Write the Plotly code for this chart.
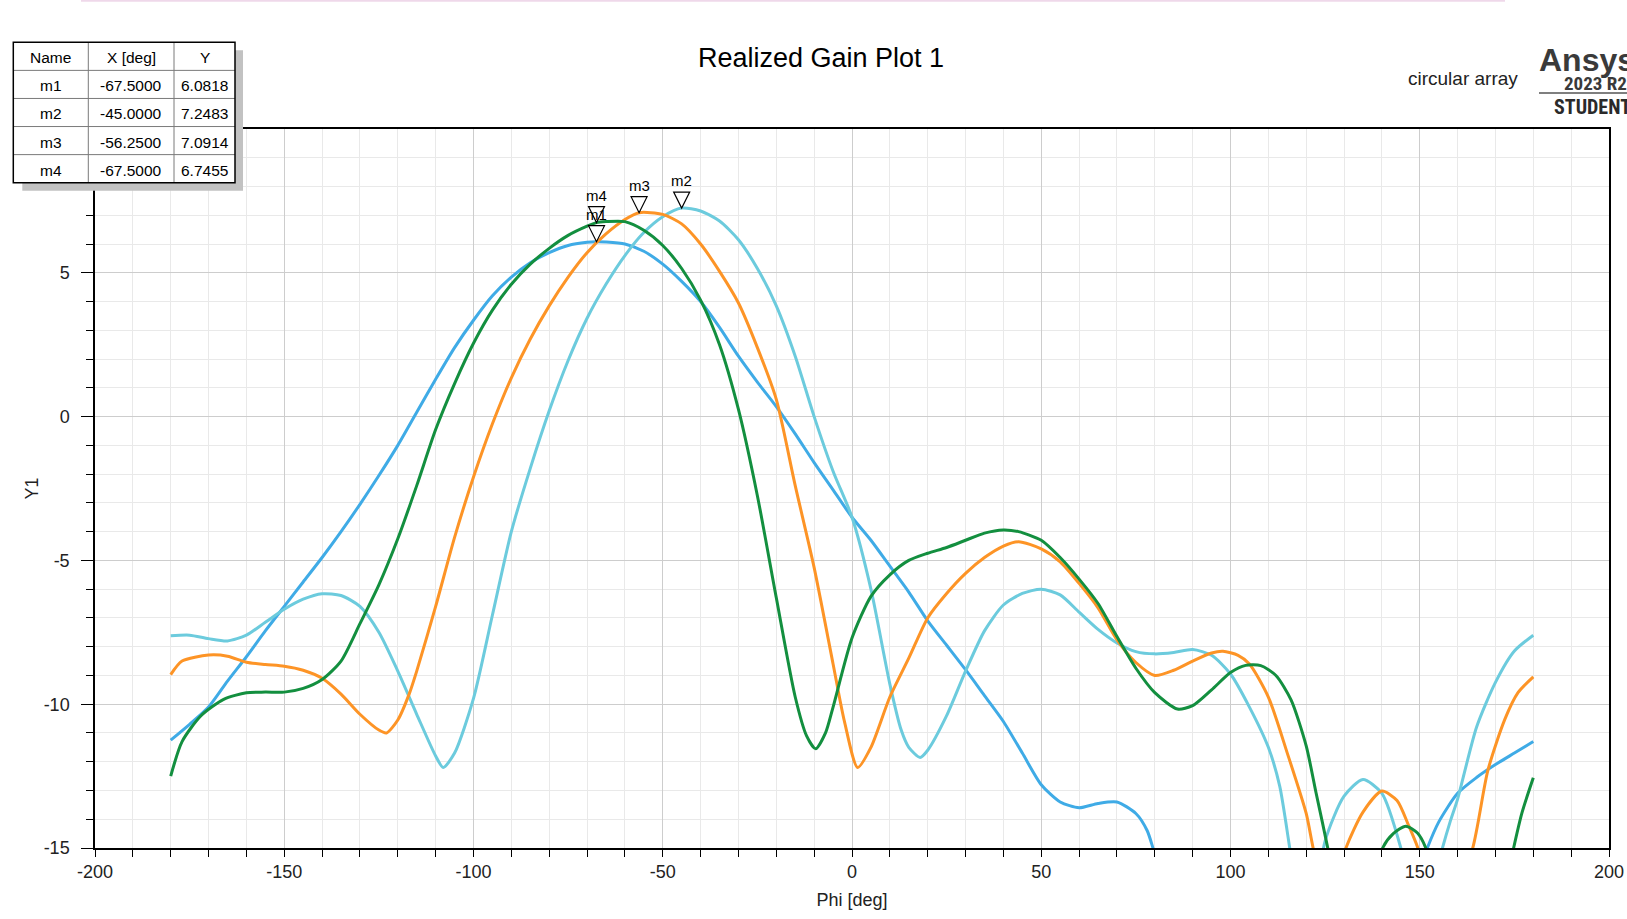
import plotly.graph_objects as go

# ---------------- data ----------------
phi_blue = [-180, -175, -170, -165, -160, -155, -150, -145, -140, -135, -130, -125, -120, -115, -110,
            -105, -100, -95, -90, -85, -80, -75, -70, -67.5, -65, -60, -55, -50, -45, -40, -35, -30,
            -25, -20, -15, -10, -5, 0, 5, 10, 15, 20, 25, 30, 35, 40, 45, 50, 55, 60, 65, 70, 75, 78,
            80, 85, 90, 100, 110, 120, 130, 140, 148, 152, 155, 160, 165, 170, 175, 180]
gain_blue = [-11.25, -10.7, -10.1, -9.2, -8.35, -7.45, -6.6, -5.75, -4.9, -4.0, -3.05, -2.05, -1.0, 0.15, 1.3,
             2.4, 3.35, 4.2, 4.85, 5.35, 5.7, 5.95, 6.06, 6.08, 6.07, 6.0, 5.75, 5.3, 4.7, 4.0, 3.1, 2.1,
             1.2, 0.35, -0.6, -1.6, -2.55, -3.5, -4.3, -5.2, -6.1, -7.1, -7.95, -8.8, -9.7, -10.6, -11.7,
             -12.8, -13.4, -13.6, -13.45, -13.4, -13.8, -14.4, -15.2, -17, -19, -21, -22, -21, -20, -18.5,
             -16.5, -15, -14.1, -13.1, -12.55, -12.1, -11.7, -11.3]

phi_cyan = [-180, -175, -170, -165, -160, -155, -150, -145, -140, -135, -130, -125, -120, -115, -110, -108,
            -105, -100, -95, -90, -85, -80, -75, -70, -65, -60, -55, -50, -45, -40, -35, -30, -25, -20,
            -15, -10, -5, 0, 5, 10, 13, 15, 18, 20, 25, 30, 35, 40, 45, 50, 55, 60, 65, 70, 75, 80, 85,
            90, 95, 100, 105, 110, 113, 116, 120, 125, 130, 135, 140, 145, 150, 156, 158, 160, 165, 170,
            175, 180]
gain_cyan = [-7.62, -7.6, -7.72, -7.8, -7.6, -7.15, -6.7, -6.35, -6.16, -6.22, -6.6, -7.5, -8.85, -10.35,
             -11.8, -12.2, -11.7, -9.8, -6.9, -4.0, -1.8, 0.2, 1.95, 3.42, 4.6, 5.6, 6.4, 6.95, 7.25, 7.15,
             6.8, 6.15, 5.15, 3.85, 2.1, 0.0, -1.9, -3.5, -6.0, -9.3, -10.9, -11.5, -11.85, -11.6, -10.4,
             -8.85, -7.45, -6.55, -6.15, -6.0, -6.2, -6.8, -7.4, -7.87, -8.17, -8.25, -8.2, -8.1, -8.3,
             -8.95, -10.1, -11.5, -12.85, -15.3, -18.5, -14.75, -13.2, -12.62, -13.1, -15.0, -18, -15.0,
             -14.1, -13.3, -10.8, -9.24, -8.15, -7.6]

phi_orange = [-180, -177, -170, -165, -160, -155, -150, -145, -140, -135, -130, -125, -123, -120, -117,
              -115, -110, -105, -100, -95, -90, -85, -80, -75, -70, -65, -60, -56.25, -50, -45, -40, -35,
              -30, -25, -20, -15, -10, -5, -2, 1.5, 5, 10, 15, 20, 25, 30, 35, 40, 44, 50, 55, 60, 65, 70,
              75, 80, 85, 90, 95, 98, 102, 105, 110, 115, 120, 122, 126, 130.5, 135, 140, 144, 147, 149.5,
              156, 164, 168, 172.5, 176, 180]
gain_orange = [-8.97, -8.5, -8.29, -8.33, -8.54, -8.62, -8.68, -8.82, -9.1, -9.65, -10.35, -10.9, -11.0,
               -10.55, -9.65, -8.85, -6.6, -4.2, -2.1, -0.25, 1.35, 2.7, 3.85, 4.85, 5.7, 6.35, 6.85, 7.09,
               7.03, 6.7, 6.0, 5.05, 3.95, 2.4, 0.6, -2.4, -5.25, -8.6, -10.6, -12.2, -11.5, -9.75, -8.4,
               -7.0, -6.15, -5.45, -4.9, -4.5, -4.35, -4.6, -5.05, -5.8, -6.65, -7.76, -8.55, -9.0, -8.82,
               -8.5, -8.22, -8.16, -8.3, -8.6, -9.75, -11.7, -13.8, -15.1, -17, -15, -13.75, -13.02,
               -13.35, -14.2, -15.0, -18, -15.0, -12.3, -10.52, -9.59, -9.05]

phi_green = [-180, -177, -172, -166, -160, -155, -150, -145, -140, -135, -130, -125, -120, -115, -110,
             -105, -100, -95, -90, -85, -80, -75, -70, -67.5, -65, -60, -55, -50, -45, -40, -35, -30, -25,
             -20, -15, -12, -9.6, -7, -5, 0, 5, 10, 15, 20, 25, 30, 35, 40, 44, 50, 55, 60, 65, 70, 75, 80,
             86, 90, 95, 100, 104, 108, 112, 116, 120, 122.6, 125.7, 130, 135, 140.2, 143, 146.3, 149.4,
             151.6, 160, 170, 174.8, 177, 180]
gain_green = [-12.5, -11.3, -10.4, -9.83, -9.6, -9.58, -9.58, -9.45, -9.14, -8.5, -7.2, -5.85, -4.25, -2.4,
              -0.45, 1.15, 2.55, 3.7, 4.6, 5.3, 5.85, 6.3, 6.62, 6.7455, 6.78, 6.78, 6.48, 5.95, 5.15, 4.05,
              2.5, 0.25, -2.75, -6.3, -9.75, -11.1, -11.55, -11.0, -10.1, -7.7, -6.25, -5.5, -5.0, -4.75,
              -4.55, -4.3, -4.05, -3.94, -4.0, -4.3, -4.9, -5.65, -6.5, -7.65, -8.75, -9.6, -10.17, -10.05,
              -9.5, -8.9, -8.65, -8.66, -9.0, -9.85, -11.45, -13.08, -15, -18, -18, -15, -14.5, -14.24,
              -14.48, -15, -19, -18, -15, -13.78, -12.56]

marker_names = ["m1", "m2", "m3", "m4"]
marker_x = [-67.5, -45.0, -56.25, -67.5]
marker_y = [6.0818, 7.2483, 7.0914, 6.7455]

table_header = ["Name", "X [deg]", "Y"]

x_tick_vals = [-200, -150, -100, -50, 0, 50, 100, 150, 200]
y_tick_vals = [-15, -10, -5, 0, 5]

# ---------------- layout geometry ----------------
FIG_W, FIG_H = 1627, 919
M_L, M_R, M_T, M_B = 95, 18, 129, 71
PLOT_W = FIG_W - M_L - M_R
PLOT_H = FIG_H - M_T - M_B


def xp(px):
    return (px - M_L) / PLOT_W


def yp(py):
    return (FIG_H - M_B - py) / PLOT_H


FONT = "Liberation Sans, Arial, sans-serif"
NARROW = "Liberation Sans Narrow, Roboto Condensed, Liberation Sans, Arial, sans-serif"

fig = go.Figure()

series = [
    ("curve 1", phi_blue, gain_blue, "#3fabe6"),
    ("curve 2", phi_cyan, gain_cyan, "#6ccbdd"),
    ("curve 3", phi_orange, gain_orange, "#fd9426"),
    ("curve 4", phi_green, gain_green, "#138f3f"),
]
for name, xs, ys, col in series:
    fig.add_trace(go.Scatter(
        x=xs, y=ys, mode="lines", name=name, showlegend=False,
        line=dict(color=col, width=3, shape="spline", smoothing=0.7),
        hoverinfo="x+y",
    ))

shapes = []
annotations = []

# marker triangles (tip on the data point) and labels
for nm, mx, my in zip(marker_names, marker_x, marker_y):
    shapes.append(dict(
        type="path", xref="x", yref="y", xsizemode="pixel", ysizemode="pixel",
        xanchor=mx, yanchor=my, path="M -8 16 L 8 16 L 0 0 Z",
        fillcolor="white", line=dict(color="black", width=1.2), layer="above",
    ))
    annotations.append(dict(
        x=mx, y=my, xref="x", yref="y", text=nm, showarrow=False,
        yanchor="bottom", yshift=17, font=dict(family=FONT, size=15, color="black"),
    ))

# marker table
col_edges = [13.3, 88.3, 174.0, 235.0]
row_top = 42.3
row_h = 28.08
n_rows = len(marker_names) + 1
tbl_bottom = row_top + n_rows * row_h
shapes.append(dict(type="rect", xref="paper", yref="paper",
                   x0=xp(col_edges[0] + 9), x1=xp(col_edges[-1] + 8),
                   y0=yp(row_top + 8), y1=yp(tbl_bottom + 8),
                   fillcolor="#c2c2c2", line=dict(width=0), layer="above"))
shapes.append(dict(type="rect", xref="paper", yref="paper",
                   x0=xp(col_edges[0]), x1=xp(col_edges[-1]),
                   y0=yp(row_top), y1=yp(tbl_bottom),
                   fillcolor="white", line=dict(width=0), layer="above"))
for i in range(1, n_rows):
    yy = yp(row_top + i * row_h)
    shapes.append(dict(type="line", xref="paper", yref="paper",
                       x0=xp(col_edges[0]), x1=xp(col_edges[-1]), y0=yy, y1=yy,
                       line=dict(color="#7a7a7a", width=1), layer="above"))
for cx in col_edges[1:-1]:
    shapes.append(dict(type="line", xref="paper", yref="paper",
                       x0=xp(cx), x1=xp(cx), y0=yp(row_top), y1=yp(tbl_bottom),
                       line=dict(color="#7a7a7a", width=1), layer="above"))
shapes.append(dict(type="rect", xref="paper", yref="paper",
                   x0=xp(col_edges[0]), x1=xp(col_edges[-1]),
                   y0=yp(row_top), y1=yp(tbl_bottom),
                   fillcolor="rgba(0,0,0,0)", line=dict(color="black", width=1.5), layer="above"))

rows = [table_header] + [[nm, f"{mx:.4f}", f"{my:.4f}"]
                         for nm, mx, my in zip(marker_names, marker_x, marker_y)]
for r, row in enumerate(rows):
    cy = row_top + (r + 0.5) * row_h + 1.5
    for c, txt in enumerate(row):
        cx = (col_edges[c] + col_edges[c + 1]) / 2
        annotations.append(dict(
            x=xp(cx), y=yp(cy), xref="paper", yref="paper", text=txt, showarrow=False,
            xanchor="center", yanchor="middle",
            font=dict(family=FONT, size=15.5, color="black"),
        ))

# title and branding texts
annotations.append(dict(x=xp(820.5), y=yp(58), xref="paper", yref="paper",
                        text="Realized Gain Plot 1", showarrow=False,
                        xanchor="center", yanchor="middle",
                        font=dict(family=FONT, size=27, color="black")))
annotations.append(dict(x=xp(1406), y=yp(78), xref="paper", yref="paper",
                        text="circular array", showarrow=False,
                        xanchor="left", yanchor="middle",
                        font=dict(family=FONT, size=19, color="#222222")))
annotations.append(dict(x=xp(1537), y=yp(60), xref="paper", yref="paper",
                        text="<b>Ansys</b>", showarrow=False,
                        xanchor="left", yanchor="middle",
                        font=dict(family=FONT, size=32, color="#3a3a3a")))
annotations.append(dict(x=xp(1562), y=yp(84), xref="paper", yref="paper",
                        text="<b>2023 R2</b>", showarrow=False,
                        xanchor="left", yanchor="middle",
                        font=dict(family=NARROW, size=19, color="#3a3a3a")))
annotations.append(dict(x=xp(1552), y=yp(107), xref="paper", yref="paper",
                        text="<b>STUDENT</b>", showarrow=False,
                        xanchor="left", yanchor="middle",
                        font=dict(family=NARROW, size=20, color="#2a2a2a")))
shapes.append(dict(type="line", xref="paper", yref="paper",
                   x0=xp(1539), x1=xp(1627), y0=yp(93), y1=yp(93),
                   line=dict(color="#555555", width=1.5)))
# faint pink line at the very top of the page
shapes.append(dict(type="line", xref="paper", yref="paper",
                   x0=xp(81), x1=xp(1505), y0=yp(0.8), y1=yp(0.8),
                   line=dict(color="#efd8ea", width=2)))

fig.update_layout(
    width=FIG_W, height=FIG_H, autosize=False,
    margin=dict(l=M_L, r=M_R, t=M_T, b=M_B, pad=0, autoexpand=False),
    paper_bgcolor="white", plot_bgcolor="white",
    font=dict(family=FONT, size=18, color="#222222"),
    showlegend=False,
    shapes=shapes,
    annotations=annotations,
    xaxis=dict(
        range=[-200, 200], tickmode="array", tickvals=x_tick_vals,
        ticktext=[str(v) for v in x_tick_vals], automargin=False,
        ticks="outside", ticklen=7, tickwidth=1.2, tickcolor="black",
        showline=True, linecolor="black", linewidth=1.5, mirror=True,
        showgrid=True, gridcolor="#cdcdcd", gridwidth=1, zeroline=False,
        minor=dict(tickmode="linear", tick0=-200, dtick=10, ticks="outside", ticklen=7,
                   tickcolor="black", tickwidth=1.2, showgrid=True, gridcolor="#e9e9e9", gridwidth=1),
        tickfont=dict(family=FONT, size=18, color="#222222"),
        title=dict(text="Phi [deg]", font=dict(family=FONT, size=18, color="#222222"), standoff=12),
    ),
    yaxis=dict(
        range=[-15, 10], tickmode="array", tickvals=y_tick_vals,
        ticktext=[str(v) for v in y_tick_vals], automargin=False,
        ticks="outside", ticklen=12, tickwidth=1.2, tickcolor="black",
        showline=True, linecolor="black", linewidth=1.5, mirror=True,
        showgrid=True, gridcolor="#cdcdcd", gridwidth=1, zeroline=False,
        minor=dict(tickmode="linear", tick0=-15, dtick=1, ticks="outside", ticklen=7,
                   tickcolor="black", tickwidth=1.2, showgrid=True, gridcolor="#e9e9e9", gridwidth=1),
        tickfont=dict(family=FONT, size=18, color="#222222"),
        ticklabelstandoff=8,
        title=dict(text="Y1", font=dict(family=FONT, size=18, color="#222222"), standoff=0),
    ),
)

fig.write_html("out.html")
